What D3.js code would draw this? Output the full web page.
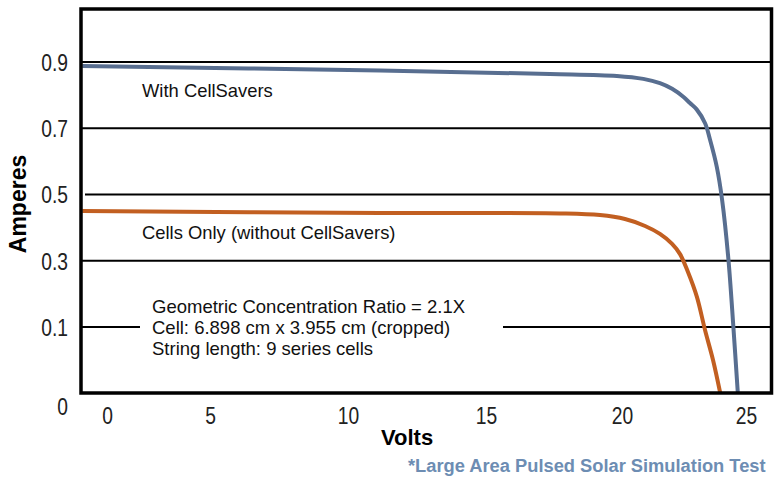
<!DOCTYPE html>
<html>
<head>
<meta charset="utf-8">
<script src="https://cdn.jsdelivr.net/npm/d3@7"></script>
<style>
  html, body { margin: 0; padding: 0; background: #fff; }
  svg { display: block; }
</style>
</head>
<body>
<svg id="chart" width="774" height="477"></svg>
<script>
// ---------- data ----------
const xTickValues = [0, 5, 10, 15, 20, 25];
const yTickValues = [0.1, 0.3, 0.5, 0.7, 0.9];
const yTickLabels = ["0.1", "0.3", "0.5", "0.7", "0.9"];
const zeroLabel = "0";

// With CellSavers: [volts, amperes]
const withCellSavers = [
  [-1.2, 0.888], [11.16, 0.874], [17.35, 0.864], [19.81, 0.858], [20.86, 0.849],
  [21.53, 0.836], [22.02, 0.819], [22.47, 0.795], [22.74, 0.776], [23.01, 0.757],
  [23.35, 0.715], [23.55, 0.665], [23.82, 0.584], [24.04, 0.482], [24.29, 0.305],
  [24.49, 0.101], [24.67, 0]
];
// Cells only: [volts, amperes]
const cellsOnly = [
  [-1.2, 0.450], [11.16, 0.444], [17.72, 0.443], [19.19, 0.438], [20.12, 0.426],
  [20.93, 0.405], [21.53, 0.381], [22.02, 0.351], [22.34, 0.320], [22.66, 0.266],
  [23.02, 0.191], [23.35, 0.095], [23.67, 0.050], [23.96, 0]
];

const seriesLabels = ["With CellSavers", "Cells Only (without CellSavers)"];
const noteLines = [
  "Geometric Concentration Ratio = 2.1X",
  "Cell: 6.898 cm x 3.955 cm (cropped)",
  "String length: 9 series cells"
];
const xTitle = "Volts";
const yTitle = "Amperes";
const footnote = "*Large Area Pulsed Solar Simulation Test";

// ---------- layout ----------
const frame = { left: 81, right: 771.5, top: 9, bottom: 393 };
const svg = d3.select("#chart");

const x = d3.scaleLinear().domain(xTickValues).range([107, 210, 348, 486, 622, 746]);
const y = d3.scaleLinear().domain([0, 0.1, 0.9]).range([frame.bottom, 327, 62]);

const blue = "#586e90";
const orange = "#c25f21";
const textFont = "'Liberation Sans', Arial, sans-serif";
const narrowFont = "'Liberation Sans Narrow', 'Liberation Sans', Arial, sans-serif";
const tickSize = 23.5;

// check whether a narrow face is available
function measure(fam) {
  const t = svg.append("text").attr("font-family", fam).attr("font-size", 22).text("0.9 10 25");
  const w = t.node().getComputedTextLength();
  t.remove();
  return w;
}
const narrowAvailable = measure(narrowFont) < measure("'Liberation Sans', Arial, sans-serif") * 0.95;
const squeeze = narrowAvailable ? 1 : 0.82;

// clip
svg.append("defs").append("clipPath").attr("id", "plotclip")
  .append("rect")
  .attr("x", frame.left).attr("y", frame.top)
  .attr("width", frame.right - frame.left).attr("height", frame.bottom - frame.top);

// gridlines
svg.append("g").selectAll("line").data(yTickValues).join("line")
  .attr("x1", d => d === 0.5 ? frame.left + 4 : frame.left)
  .attr("x2", frame.right)
  .attr("y1", d => y(d)).attr("y2", d => y(d))
  .attr("stroke", "#000").attr("stroke-width", 2.2);

// annotation background (gap in gridline)
const noteX = 152, noteBase = 313, noteStep = 21;
svg.append("rect")
  .attr("x", 140).attr("y", noteBase - 18)
  .attr("width", 503 - 140).attr("height", noteStep * 3 + 4)
  .attr("fill", "#fff");

// curves
const line = d3.line().x(d => x(d[0])).y(d => y(d[1])).curve(d3.curveCatmullRom.alpha(0.5));
const curves = svg.append("g").attr("clip-path", "url(#plotclip)");
curves.append("path").datum(cellsOnly).attr("d", line)
  .attr("fill", "none").attr("stroke", orange).attr("stroke-width", 4).attr("stroke-linejoin", "round");
curves.append("path").datum(withCellSavers).attr("d", line)
  .attr("fill", "none").attr("stroke", blue).attr("stroke-width", 4).attr("stroke-linejoin", "round");

// frame
svg.append("rect")
  .attr("x", frame.left).attr("y", frame.top)
  .attr("width", frame.right - frame.left).attr("height", frame.bottom - frame.top)
  .attr("fill", "none").attr("stroke", "#000").attr("stroke-width", 3.5);

// y tick labels (axis)
const yAxis = d3.axisLeft(y).tickValues(yTickValues)
  .tickFormat((d, i) => yTickLabels[i]).tickSize(0).tickPadding(0);
const yg = svg.append("g").attr("transform", `translate(68,0)`).call(yAxis);
yg.select(".domain").remove();
yg.selectAll("text")
  .attr("font-family", narrowFont).attr("font-size", tickSize).attr("fill", "#222")
  .attr("dy", "0.36em").attr("x", 0)
  .attr("transform", `scale(${squeeze},1)`);
// "0" label below the frame
svg.append("text")
  .attr("transform", `translate(68,${y(0) + 14}) scale(${squeeze},1)`)
  .attr("text-anchor", "end").attr("dy", "0.36em")
  .attr("font-family", narrowFont).attr("font-size", tickSize).attr("fill", "#222")
  .text(zeroLabel);

// x tick labels (axis)
const xAxis = d3.axisBottom(x).tickValues(xTickValues).tickFormat(d3.format("d")).tickSize(0).tickPadding(0);
const xg = svg.append("g").attr("transform", `translate(0,${frame.bottom})`).call(xAxis);
xg.select(".domain").remove();
xg.selectAll("text")
  .attr("font-family", narrowFont).attr("font-size", tickSize).attr("fill", "#222")
  .attr("y", 31.5).attr("dy", 0)
  .attr("transform", `scale(${squeeze},1)`);

// axis titles
svg.append("text")
  .attr("x", 381).attr("y", 445)
  .attr("font-family", textFont).attr("font-weight", "bold").attr("font-size", 22)
  .attr("fill", "#000").text(xTitle);
svg.append("text")
  .attr("transform", `translate(26,204) rotate(-90)`)
  .attr("text-anchor", "middle")
  .attr("font-family", textFont).attr("font-weight", "bold").attr("font-size", 23)
  .attr("fill", "#000").text(yTitle);

// series labels
svg.append("text").attr("x", 142).attr("y", 97)
  .attr("font-family", textFont).attr("font-size", 18.4).attr("fill", "#111")
  .text(seriesLabels[0]);
svg.append("text").attr("x", 142).attr("y", 239)
  .attr("font-family", textFont).attr("font-size", 18.4).attr("fill", "#111")
  .text(seriesLabels[1]);

// note
svg.append("g").selectAll("text").data(noteLines).join("text")
  .attr("x", noteX).attr("y", (d, i) => noteBase + i * noteStep)
  .attr("font-family", textFont).attr("font-size", 18.5).attr("fill", "#111")
  .text(d => d);

// footnote
svg.append("text").attr("x", 408).attr("y", 472)
  .attr("font-family", textFont).attr("font-weight", "bold").attr("font-size", 18.3)
  .attr("fill", "#6d8db3").text(footnote);
</script>
</body>
</html>
